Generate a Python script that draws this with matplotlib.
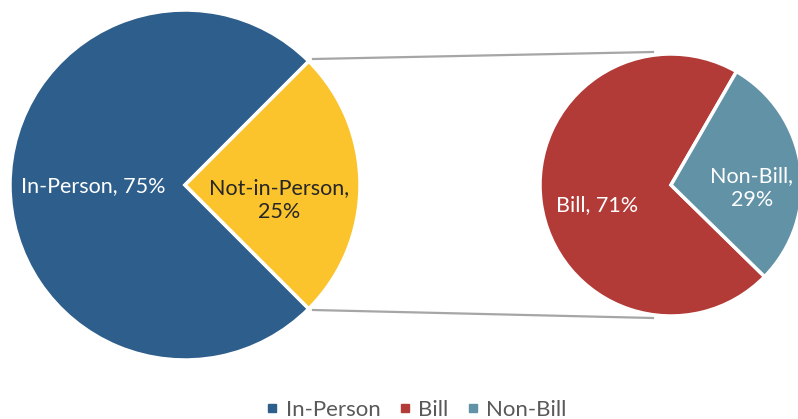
import matplotlib
matplotlib.use("Agg")
import matplotlib.pyplot as plt
import matplotlib.lines as mlines

# data
main_labels = ["In-Person", "Not-in-Person"]
main_values = [75, 25]
sub_labels = ["Bill", "Non-Bill"]
sub_values = [71, 29]
legend_labels = ["In-Person", "Bill", "Non-Bill"]

blue = "#2E5E8B"
yellow = "#FBC42C"
red = "#B33B37"
teal = "#6292A6"

plt.rcParams['font.family'] = ['Lato', 'DejaVu Sans']

W, H = 798, 419
fig = plt.figure(figsize=(W / 100, H / 100), dpi=100)
ax = fig.add_axes([0, 0, 1, 1])
ax.set_xlim(0, W)
ax.set_ylim(0, H)
ax.set_aspect('equal')
ax.axis('off')

# main pie
c1 = (185, H - 185)
r1 = 175
w1, _ = ax.pie(main_values, colors=[blue, yellow], startangle=45, center=c1,
               radius=r1, wedgeprops=dict(edgecolor='white', linewidth=2.5))

# breakdown pie
c2 = (671, H - 185)
r2 = 131
w2, _ = ax.pie(sub_values, colors=[red, teal], startangle=60, center=c2,
               radius=r2, wedgeprops=dict(edgecolor='white', linewidth=2.5))
ax.set_xlim(0, W)
ax.set_ylim(0, H)

# connector lines
ax.plot([313, 653], [H - 59, H - 52], color='#A6A6A6', lw=1.6, zorder=0)
ax.plot([313, 653], [H - 310, H - 318], color='#A6A6A6', lw=1.6, zorder=0)

fs = 15.5
ax.text(93, H - 186, f"{main_labels[0]}, {main_values[0]}%", color='white',
        fontsize=fs, ha='center', va='center')
ax.text(279, H - 200, f"{main_labels[1]},\n{main_values[1]}%", color='#262626',
        fontsize=fs, ha='center', va='center', linespacing=1.2)
ax.text(597, H - 205, f"{sub_labels[0]}, {sub_values[0]}%", color='white',
        fontsize=fs, ha='center', va='center')
ax.text(752, H - 188, f"{sub_labels[1]},\n{sub_values[1]}%", color='white',
        fontsize=fs, ha='center', va='center', linespacing=1.2)

handles = [mlines.Line2D([], [], color=c, marker='s', linestyle='None',
                         markersize=6, label=l)
           for c, l in zip([blue, red, teal], legend_labels)]
leg = fig.legend(handles=handles, loc='center', bbox_to_anchor=(414 / W, 1 - 410 / H),
                 ncol=3, frameon=False, fontsize=16, handletextpad=0.1,
                 columnspacing=0.6, handlelength=1.0)
for t in leg.get_texts():
    t.set_color('#595959')

fig.savefig("out.png", dpi=100)
